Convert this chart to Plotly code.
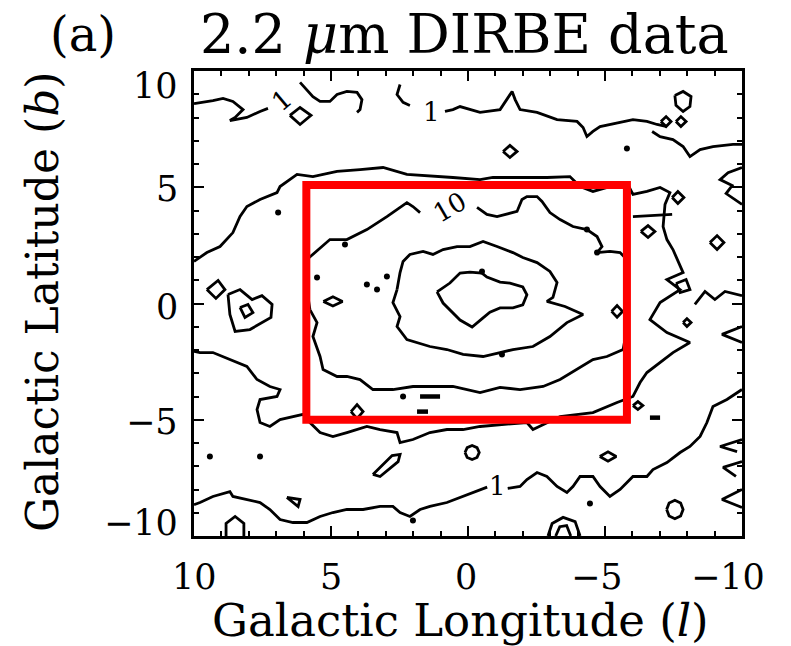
import plotly.graph_objects as go

# ---------------------------------------------------------------------------
# 2.2 micron DIRBE surface brightness contours, Galactic coordinates (l, b) deg
# ---------------------------------------------------------------------------
CONTOUR_LEVELS = [1, 3, 10, 30, 100]

# level 1 (north side, broken by labels)
LEVEL1_NORTH_WEST = [(10.0, 8.60), (9.71, 8.65), (9.31, 8.73), (8.94, 8.82), (8.58, 8.69),
                     (8.21, 8.34), (8.50, 8.00), (8.69, 7.87), (8.07, 8.00), (7.59, 8.26),
                     (7.30, 8.39)]
LEVEL1_NORTH_HOOK = [(6.13, 9.51), (5.88, 9.20), (5.66, 8.90), (5.40, 8.69), (5.04, 8.69),
                     (4.78, 8.99), (4.42, 9.12), (4.05, 9.08), (3.87, 8.77), (3.94, 8.34),
                     (4.05, 8.22)]
LEVEL1_NORTH_ARC = [(2.48, 9.42), (2.59, 8.99), (2.37, 8.65), (2.12, 8.52)]
LEVEL1_NORTH_EAST = [(0.84, 8.26), (0.55, 8.34), (0.29, 8.47), (-0.44, 8.22), (-1.17, 8.34),
                     (-1.42, 8.77), (-1.61, 9.12), (-1.72, 8.77), (-1.90, 8.34), (-2.52, 8.22),
                     (-3.25, 7.91), (-3.98, 7.83), (-4.20, 7.57), (-4.34, 7.18), (-4.56, 7.40),
                     (-4.82, 7.61), (-5.44, 7.78), (-6.02, 7.91), (-6.53, 7.83), (-6.90, 7.70),
                     (-7.26, 7.61)]
LEVEL1_NORTH_EDGE = [(-6.72, 7.40), (-7.01, 7.18), (-7.48, 7.05), (-7.85, 6.75), (-8.10, 6.32),
                     (-8.47, 6.62), (-8.94, 6.75), (-9.67, 6.84), (-10.0, 6.84)]

# level 1 (south side)
LEVEL1_SOUTH_WEST = [(10.0, -8.65), (9.78, -8.56), (9.31, -8.30), (8.69, -8.09), (8.58, -8.30),
                     (8.07, -8.43), (7.59, -8.56), (7.23, -8.86), (6.86, -9.29), (6.39, -9.42),
                     (5.88, -9.42), (5.40, -9.16), (4.93, -8.99), (4.42, -8.86), (3.83, -8.86),
                     (3.21, -8.73), (2.74, -8.73), (2.48, -8.99), (2.12, -9.16), (1.75, -8.86),
                     (1.39, -8.73), (0.77, -8.56), (0.18, -8.30), (-0.44, -8.00), (-0.70, -7.90)]
LEVEL1_SOUTH_EAST = [(-1.45, -7.95), (-1.90, -7.87), (-2.15, -7.57), (-2.52, -7.27), (-2.88, -7.44),
                     (-3.25, -7.87), (-3.61, -8.13), (-3.83, -7.87), (-4.09, -7.44), (-4.56, -7.44),
                     (-4.82, -7.87), (-5.18, -8.30), (-5.55, -8.00), (-6.02, -7.44), (-6.53, -7.44),
                     (-6.75, -7.14), (-7.26, -6.84), (-7.74, -6.41), (-8.10, -6.15), (-8.47, -5.72),
                     (-8.72, -5.12), (-8.94, -4.43), (-9.45, -4.13), (-9.82, -3.83), (-10.0, -3.70)]

# level 3
LEVEL3 = [(10.0, 1.81), (9.53, 2.19), (9.05, 2.45), (8.58, 3.05), (8.32, 3.74), (8.07, 4.17),
          (7.59, 4.47), (6.97, 4.77), (6.86, 5.03), (6.24, 5.55), (5.66, 5.46), (4.78, 5.68),
          (3.94, 5.76), (3.10, 5.85), (2.23, 5.55), (1.28, 5.46), (0.55, 5.42), (-0.44, 5.33),
          (-0.91, 5.42), (-2.15, 5.42), (-2.88, 5.42), (-3.72, 5.46), (-4.09, 5.03), (-4.56, 4.82),
          (-5.18, 5.03), (-5.80, 5.20), (-6.02, 4.69), (-6.53, 4.82), (-7.01, 4.99), (-7.37, 4.77),
          (-7.19, 4.26), (-7.12, 3.31), (-7.26, 2.75), (-7.48, 2.32), (-7.63, 1.89), (-7.85, 1.33),
          (-7.26, 1.03), (-7.74, 0.60), (-7.01, 0.04), (-6.64, -0.69), (-7.26, -1.25), (-8.10, -1.68),
          (-7.48, -2.11), (-7.01, -2.54), (-6.53, -2.97), (-6.28, -3.40), (-6.02, -4.00), (-5.44, -4.26),
          (-4.56, -4.69), (-3.36, -4.86), (-2.88, -5.12), (-2.37, -5.42), (-2.15, -5.12), (-1.17, -5.20),
          (-0.44, -5.29), (0.18, -5.42), (0.77, -5.42), (1.39, -5.55), (2.01, -5.85), (2.48, -5.98),
          (2.59, -5.55), (3.21, -5.42), (3.69, -5.29), (4.42, -5.55), (4.93, -5.72), (5.40, -5.55),
          (5.77, -5.12), (6.02, -4.77), (6.39, -4.86), (6.86, -4.99), (7.23, -5.29), (7.59, -5.12),
          (7.70, -4.56), (7.59, -4.13), (6.97, -4.00), (6.86, -3.70), (7.23, -3.57), (7.70, -3.27),
          (8.07, -2.71), (8.69, -2.41), (9.31, -2.11), (9.78, -2.11), (10.0, -2.06)]

# level 10 (open where its label sits)
LEVEL10 = [(-0.33, 4.13), (-0.69, 3.83), (-1.06, 3.74), (-1.79, 3.96), (-1.97, 4.47), (-2.15, 4.60),
           (-2.52, 4.60), (-2.70, 4.39), (-2.99, 3.91), (-3.36, 3.61), (-3.83, 3.31), (-4.34, 3.18),
           (-4.71, 2.88), (-4.89, 2.45), (-4.71, 2.19), (-5.18, 2.24), (-5.55, 2.19), (-5.80, 1.89),
           (-5.84, 0.17), (-5.73, -1.55), (-5.66, -1.98), (-5.07, -2.28), (-4.56, -2.41), (-3.98, -2.84),
           (-3.36, -3.27), (-2.74, -3.57), (-1.90, -3.70), (-1.17, -3.61), (-0.44, -3.83), (0.55, -3.57),
           (1.28, -3.57), (2.01, -3.57), (2.74, -3.70), (3.47, -3.70), (3.94, -3.27), (4.42, -3.14),
           (4.78, -3.14), (5.29, -2.84), (5.40, -2.28), (5.66, -1.42), (5.51, -0.82), (5.77, -0.26),
           (5.91, 0.82), (5.88, 1.89), (5.04, 2.75), (4.42, 2.75), (3.69, 3.18), (2.96, 3.74),
           (2.23, 4.34), (2.01, 4.17), (1.75, 3.91)]

# level 30
LEVEL30 = [(2.59, 0.60), (2.48, 1.33), (2.37, 1.81), (2.12, 2.11), (1.64, 2.24), (1.28, 2.11),
           (0.91, 2.32), (0.40, 2.45), (-0.07, 2.45), (-0.55, 2.67), (-1.06, 2.45), (-1.64, 2.19),
           (-2.00, 1.98), (-2.52, 1.76), (-2.99, 1.38), (-3.25, 0.90), (-3.10, 0.26), (-2.88, 0.09),
           (-3.54, -0.13), (-4.20, -0.47), (-3.61, -0.82), (-2.99, -1.42), (-2.37, -1.85), (-1.64, -1.98),
           (-1.17, -2.11), (-0.55, -2.28), (0.18, -2.19), (0.77, -1.98), (1.39, -1.85), (2.23, -1.55),
           (2.59, -0.99), (2.48, -0.56), (2.74, 0.04)]

# level 100
LEVEL100 = [(1.13, 0.50), (0.66, 0.88), (0.29, 1.31), (-0.07, 1.35), (-0.51, 1.31), (-0.69, 1.14),
            (-1.17, 0.92), (-1.53, 0.88), (-2.00, 0.71), (-2.15, 0.37), (-2.00, -0.06), (-1.64, -0.19),
            (-1.17, -0.19), (-0.80, -0.37), (-0.55, -0.62), (-0.15, -1.01), (0.29, -0.71), (0.66, -0.28),
            (0.91, 0.02)]

# small closed islands
LOOPS_NORTH = [
    [(6.50, 8.09), (6.13, 8.43), (5.73, 8.09), (6.13, 7.70)],
    [(-1.28, 6.54), (-1.53, 6.80), (-1.79, 6.54), (-1.53, 6.28)],
    [(-7.55, 8.95), (-7.85, 9.12), (-8.14, 8.90), (-8.10, 8.47), (-7.85, 8.26), (-7.59, 8.52)],
    [(-7.04, 7.83), (-7.23, 8.04), (-7.41, 7.83), (-7.23, 7.61)],
    [(-7.59, 7.83), (-7.77, 8.04), (-7.96, 7.83), (-7.77, 7.61)],
]
LOOPS_EAST = [
    [(-7.45, 4.56), (-7.66, 4.82), (-7.88, 4.56), (-7.66, 4.30)],
    [(-6.31, 3.10), (-6.57, 3.35), (-6.82, 3.10), (-6.57, 2.84)],
    [(-8.83, 2.62), (-9.09, 2.92), (-9.34, 2.62), (-9.09, 2.32)],
    [(-7.59, 0.86), (-7.96, 1.03), (-8.10, 0.60), (-7.74, 0.47)],
    [(-7.85, -0.82), (-7.99, -0.65), (-8.14, -0.82), (-7.99, -0.99)],
    [(-5.24, -0.34), (-5.44, -0.09), (-5.64, -0.34), (-5.44, -0.59)],
    [(-6.02, -4.39), (-6.20, -4.22), (-6.38, -4.39), (-6.20, -4.56)],
]
LOOPS_WEST = [
    [(9.53, 0.60), (9.12, 0.99), (8.87, 0.60), (9.20, 0.22)],
    [(8.76, 0.39), (8.32, 0.60), (7.88, 0.17), (7.52, 0.34), (7.15, -0.04), (7.19, -0.60),
     (7.96, -1.12), (8.50, -1.20), (8.69, -0.47)],
    [(8.32, -0.17), (8.03, -0.04), (7.85, -0.39), (8.14, -0.60)],
    [(5.28, 0.09), (4.93, 0.29), (4.58, 0.09), (4.93, -0.11)],
]
LOOPS_SOUTH = [
    [(4.27, -4.65), (4.05, -4.35), (3.83, -4.65), (4.05, -4.95)],
    [(3.47, -7.35), (2.77, -6.54), (2.48, -6.49), (2.55, -6.80), (3.21, -7.44)],
    [(0.11, -6.41), (0.03, -6.20), (-0.15, -6.11), (-0.33, -6.20), (-0.41, -6.41), (-0.33, -6.62),
     (-0.15, -6.71), (0.03, -6.62)],
    [(-4.81, -6.58), (-5.11, -6.38), (-5.41, -6.58), (-5.11, -6.78)],
    [(-7.25, -8.86), (-7.34, -8.58), (-7.55, -8.46), (-7.76, -8.58), (-7.85, -8.86), (-7.76, -9.14),
     (-7.55, -9.26), (-7.34, -9.14)],
    [(6.61, -8.34), (6.13, -8.43), (6.20, -8.73)],
]

# short open fragments
FRAGMENTS_EAST = [
    [(-6.02, 3.74), (-6.64, 3.78), (-7.45, 3.83)],
    [(-10.0, 5.85), (-9.49, 5.63), (-9.20, 5.33), (-9.64, 5.07), (-9.42, 4.73), (-9.74, 4.47), (-10.0, 4.26)],
    [(-8.28, -0.04), (-8.65, 0.52), (-9.01, 0.17), (-9.38, 0.52), (-10.0, 0.34)],
    [(-10.0, -0.99), (-9.27, -1.33), (-10.0, -1.68)],
    [(-10.0, -5.85), (-9.20, -6.15), (-9.82, -6.37)],
    [(-10.0, -6.80), (-9.31, -7.05), (-9.78, -7.44)],
    [(-10.0, -8.00), (-9.27, -8.43), (-10.0, -8.77)],
]
FRAGMENTS_SOUTH = [
    [(8.83, -10.0), (8.83, -9.46), (8.50, -9.16), (8.18, -9.46), (8.18, -10.0)],
    [(-2.92, -10.0), (-3.07, -9.46), (-3.47, -9.20), (-3.91, -9.38), (-4.09, -10.0)],
    [(-3.20, -10.0), (-3.35, -9.60), (-3.60, -9.55), (-3.75, -10.0)],
]
DASHES = [
    [(1.75, -4.00), (1.02, -4.00)],
    [(1.86, -4.65), (1.46, -4.65)],
    [(-6.64, -4.91), (-7.01, -4.91)],
]

# isolated bright pixels
DOTS_L = [6.93, 5.51, 3.69, 3.32, 2.96, -5.80, 2.37, 9.42, 7.59, -4.45, 2.01,
          -0.51, -1.24, 4.49, -4.34, -4.71]
DOTS_B = [3.91, 1.12, 0.82, 0.60, 1.16, 6.67, -4.00, -6.58, -6.58, -8.60, -9.33,
          1.38, -2.19, 2.54, 3.18, 2.19]

# contour labels
LABEL_L = [6.79, 1.35, 0.66, -1.06]
LABEL_B = [8.77, 8.22, 4.17, -7.87]
LABEL_LEVEL = [1, 1, 10, 1]
LABEL_ANGLE = [-40, 0, -30, 0]

# region of interest outline
BOX_L = [5.9, -5.8]
BOX_B = [-5.0, 5.1]

# axes
X_TICKS = [10, 5, 0, -5, -10]
X_TICK_TEXT = ["10", "5", "0", "\u22125", "\u221210"]
Y_TICKS = [10, 5, 0, -5, -10]
Y_TICK_TEXT = ["10", "5", "0", "\u22125", "\u221210"]

FONT = "DejaVu Serif"
INK = "black"


def join_paths(paths, closed=False):
    xs, ys = [], []
    for p in paths:
        pts = list(p) + ([p[0]] if closed else [])
        xs += [q[0] for q in pts] + [None]
        ys += [q[1] for q in pts] + [None]
    return xs, ys


def line_trace(paths, closed=False, width=2.8):
    xs, ys = join_paths(paths, closed)
    return go.Scatter(x=xs, y=ys, mode="lines", line=dict(color=INK, width=width),
                      hoverinfo="skip", showlegend=False)


fig = go.Figure()
fig.add_trace(line_trace([LEVEL1_NORTH_WEST, LEVEL1_NORTH_HOOK, LEVEL1_NORTH_ARC,
                          LEVEL1_NORTH_EAST, LEVEL1_NORTH_EDGE,
                          LEVEL1_SOUTH_WEST, LEVEL1_SOUTH_EAST]))
fig.add_trace(line_trace([LEVEL3]))
fig.add_trace(line_trace([LEVEL10]))
fig.add_trace(line_trace([LEVEL30, LEVEL100], closed=True))
fig.add_trace(line_trace(LOOPS_NORTH + LOOPS_EAST + LOOPS_WEST + LOOPS_SOUTH, closed=True))
fig.add_trace(line_trace(FRAGMENTS_EAST + FRAGMENTS_SOUTH))
fig.add_trace(line_trace(DASHES, width=4.5))
fig.add_trace(go.Scatter(x=DOTS_L, y=DOTS_B, mode="markers",
                         marker=dict(color=INK, size=6), hoverinfo="skip", showlegend=False))

# red outline
fig.add_shape(type="rect", xref="x", yref="y", x0=BOX_L[0], x1=BOX_L[1], y0=BOX_B[0], y1=BOX_B[1],
              line=dict(color="#ff0000", width=8), layer="above")

annotations = []
for l, b, lev, ang in zip(LABEL_L, LABEL_B, LABEL_LEVEL, LABEL_ANGLE):
    annotations.append(dict(x=l, y=b, xref="x", yref="y", text=str(lev), showarrow=False,
                            textangle=ang, font=dict(family=FONT, size=26, color=INK)))

# tick labels
y_shift = {10: -15, 5: -2, 0: -3, -5: -2, -10: 13}
for v, t in zip(Y_TICKS, Y_TICK_TEXT):
    annotations.append(dict(x=0, y=v, xref="paper", yref="y", text=t, showarrow=False,
                            xanchor="right", yanchor="middle", xshift=-14, yshift=y_shift[v],
                            font=dict(family=FONT, size=35, color=INK)))
x_shift = {10: 0, 5: 0, 0: -2, -5: -8, -10: -14}
for v, t in zip(X_TICKS, X_TICK_TEXT):
    annotations.append(dict(x=v, y=0, xref="x", yref="paper", text=t, showarrow=False,
                            xanchor="center", yanchor="middle", xshift=x_shift[v], yshift=-41,
                            font=dict(family=FONT, size=35, color=INK)))

# axis titles and panel title
annotations.append(dict(x=0.487, y=0, xref="paper", yref="paper", yshift=-84,
                        text="Galactic Longitude (<i>l</i>)", showarrow=False,
                        xanchor="center", yanchor="middle",
                        font=dict(family=FONT, size=45, color=INK)))
annotations.append(dict(x=0, y=0.503, xref="paper", yref="paper", xshift=-152,
                        text="Galactic Latitude (<i>b</i>)", showarrow=False, textangle=-90,
                        xanchor="center", yanchor="middle",
                        font=dict(family=FONT, size=44, color=INK)))
annotations.append(dict(x=0, y=1, xref="paper", yref="paper", xshift=-111, yshift=37,
                        text="(a)", showarrow=False, xanchor="center", yanchor="middle",
                        font=dict(family=FONT, size=48, color=INK)))
annotations.append(dict(x=0, y=1, xref="paper", yref="paper", xshift=270, yshift=37,
                        text="2.2 <i>\u03bc</i>m DIRBE data", showarrow=False,
                        xanchor="center", yanchor="middle",
                        font=dict(family=FONT, size=54, color=INK)))

axis_common = dict(showgrid=False, zeroline=False, showline=True, linecolor=INK, linewidth=2.5,
                   mirror="allticks", ticks="inside", ticklen=10, tickwidth=2, tickcolor=INK,
                   dtick=5, tick0=0, showticklabels=False,
                   minor=dict(ticks="inside", dtick=1, tick0=0, ticklen=5, tickwidth=2,
                              tickcolor=INK, showgrid=False))

fig.update_layout(
    width=791, height=646,
    margin=dict(l=194, r=49, t=71, b=110),
    paper_bgcolor="white", plot_bgcolor="white",
    xaxis=dict(range=[10, -10], **axis_common),
    yaxis=dict(range=[-10, 10], **axis_common),
    annotations=annotations,
)

fig.write_html("out.html")
